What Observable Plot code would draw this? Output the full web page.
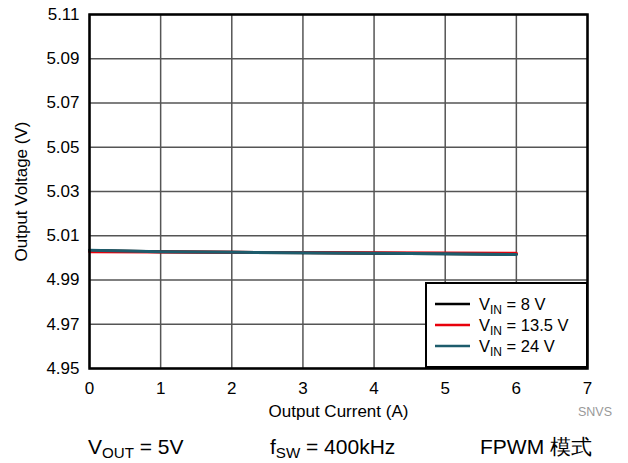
<!DOCTYPE html>
<html>
<head>
<meta charset="utf-8">
<script src="https://cdn.jsdelivr.net/npm/d3@7"></script>
<script src="https://cdn.jsdelivr.net/npm/@observablehq/plot@0.6"></script>
<style>
  body { margin: 0; background: #fff; font-family: "Liberation Sans", Arial, sans-serif; }
  #wrap { position: relative; width: 628px; height: 463px; }
  .cap { position: absolute; font-size: 21px; line-height: 1; color: #000; white-space: nowrap; }
  .snvs { position: absolute; font-size: 12.5px; color: #999; left: 578px; top: 405px; }
  sub { font-size: 0.72em; vertical-align: -0.28em; line-height: 0; }
</style>
</head>
<body>
<div id="wrap"></div>
<script>
const current = [0, 1, 2, 3, 4, 5, 6];
const vin8 = [5.0033, 5.0028, 5.0025, 5.0023, 5.0021, 5.0019, 5.0016];
const vin13 = [5.0028, 5.0026, 5.0025, 5.0024, 5.0023, 5.0022, 5.0021];
const vin24 = [5.0034, 5.0028, 5.0025, 5.0023, 5.0021, 5.0019, 5.0015];
const seriesNames = ["8 V", "13.5 V", "24 V"];
const seriesColors = ["#000000", "#e8000b", "#1d5c6c"];
const yTicks = [4.95, 4.97, 4.99, 5.01, 5.03, 5.05, 5.07, 5.09, 5.11];
const xTicks = [0, 1, 2, 3, 4, 5, 6, 7];

const allSeries = [vin8, vin13, vin24];
const rows = [];
allSeries.forEach((vals, s) => vals.forEach((v, i) => rows.push({x: current[i], y: v, s: seriesNames[s]})));

const chart = Plot.plot({
  width: 628,
  height: 420,
  marginLeft: 89,
  marginRight: 41,
  marginTop: 14,
  marginBottom: 52,
  style: {fontFamily: "Liberation Sans, Arial, sans-serif", fontSize: "17px", color: "#000"},
  x: {domain: [0, 7], ticks: xTicks, tickFormat: d => String(d), label: null},
  y: {domain: [4.95, 5.11], ticks: yTicks, tickFormat: d => d.toFixed(2), label: null},
  color: {domain: seriesNames, range: seriesColors},
  marks: [
    Plot.gridX(xTicks, {stroke: "#555", strokeOpacity: 1, strokeWidth: 1.5}),
    Plot.gridY(yTicks, {stroke: "#555", strokeOpacity: 1, strokeWidth: 1.5}),
    Plot.axisX(xTicks, {tickSize: 0, tickPadding: 13, tickFormat: d => String(d),
      label: "Output Current (A)", labelAnchor: "center", labelOffset: 48, labelArrow: "none"}),
    Plot.axisY(yTicks, {tickSize: 0, tickPadding: 10, tickFormat: d => d.toFixed(2),
      label: "Output Voltage (V)", labelAnchor: "center", labelOffset: 75, labelArrow: "none"}),
    Plot.line(rows, {x: "x", y: "y", z: "s", stroke: "s", strokeWidth: 3}),
    Plot.frame({stroke: "#000", strokeWidth: 2.5})
  ]
});

const wrap = document.getElementById("wrap");
wrap.appendChild(chart);
chart.style.position = "absolute";
chart.style.left = "0";
chart.style.top = "0";

// Legend (inside plot, bottom-right)
const svg = d3.select(chart);
const lx0 = 426, ly0 = 283, lw = 161, lh = 84;
const lg = svg.append("g");
lg.append("rect").attr("x", lx0).attr("y", ly0).attr("width", lw).attr("height", lh)
  .attr("fill", "#fff").attr("stroke", "#000").attr("stroke-width", 2);
seriesNames.forEach((n, i) => {
  const yy = ly0 + 21 + i * 21;
  lg.append("line").attr("x1", lx0 + 9).attr("x2", lx0 + 44).attr("y1", yy).attr("y2", yy)
    .attr("stroke", seriesColors[i]).attr("stroke-width", 2.5);
  const t = lg.append("text").attr("x", lx0 + 53).attr("y", yy + 6)
    .attr("text-anchor", "start")
    .attr("font-size", 16.5).attr("font-family", "Liberation Sans, Arial, sans-serif");
  t.append("tspan").text("V");
  t.append("tspan").attr("font-size", 12).attr("dy", 4).text("IN");
  t.append("tspan").attr("dy", -4).text(" = " + n);
});

const caps = [
  {left: 88, html: "V<sub>OUT</sub> = 5V"},
  {left: 270, html: "f<sub>SW</sub> = 400kHz"},
  {left: 480, html: "FPWM 模式"}
];
caps.forEach(c => {
  const d = document.createElement("div");
  d.className = "cap";
  d.style.left = c.left + "px";
  d.style.top = "436px";
  d.innerHTML = c.html;
  wrap.appendChild(d);
});
const sn = document.createElement("div");
sn.className = "snvs";
sn.textContent = "SNVS";
wrap.appendChild(sn);
</script>
</body>
</html>
